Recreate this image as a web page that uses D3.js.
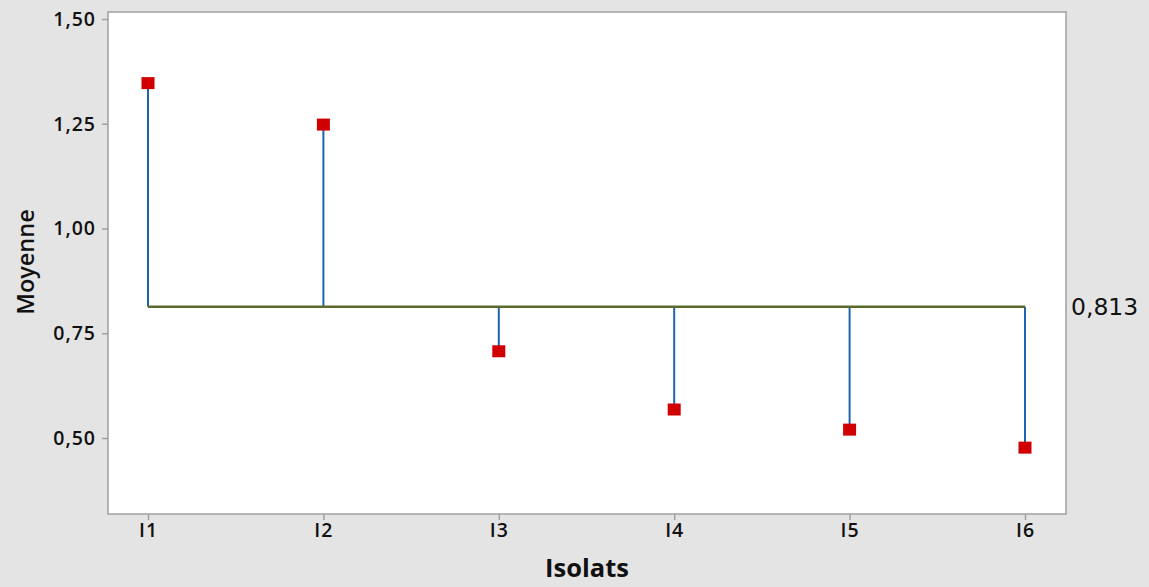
<!DOCTYPE html>
<html>
<head>
<meta charset="utf-8">
<script src="https://cdn.jsdelivr.net/npm/d3@7"></script>
<style>
  body { margin: 0; background: #e4e4e4; }
  #chart { width: 1149px; height: 587px; }
  text { font-family: "Open Sans", "Noto Sans", sans-serif; }
</style>
</head>
<body>
<div id="chart"></div>
<script>
// data
const isolats = ["I1", "I2", "I3", "I4", "I5", "I6"]
const moyennes = [1.347, 1.248, 0.707, 0.568, 0.520, 0.477]
const moyenneGlobale = 0.813
const yTicks = [0.50, 0.75, 1.00, 1.25, 1.50]

const W = 1149, H = 587
const frame = { left: 108, top: 12, right: 1066, bottom: 514 }

const svg = d3.select("#chart").append("svg")
  .attr("width", W)
  .attr("height", H)

svg.append("rect")
  .attr("width", W).attr("height", H)
  .attr("fill", "#e4e4e4")

// zone du graphe
svg.append("rect")
  .attr("x", frame.left).attr("y", frame.top)
  .attr("width", frame.right - frame.left)
  .attr("height", frame.bottom - frame.top)
  .attr("fill", "white")
  .attr("stroke", "#a0a0a0")
  .attr("stroke-width", 1.5)

const xScale = d3.scalePoint()
  .domain(isolats)
  .range([148, 1025])

const yScale = d3.scaleLinear()
  .domain([0.50, 1.50])
  .range([438, 19])

// axes
const xAxis = d3.axisBottom(xScale).tickSize(6).tickPadding(3)
const yAxis = d3.axisLeft(yScale).tickValues(yTicks).tickSize(6).tickPadding(6)
  .tickFormat(d => d3.format(".2f")(d).replace(".", ","))

const gx = svg.append("g")
  .attr("transform", `translate(0, ${frame.bottom})`)
  .call(xAxis)
gx.select(".domain").remove()

const gy = svg.append("g")
  .attr("transform", `translate(${frame.left}, 0)`)
  .call(yAxis)
gy.select(".domain").remove()

svg.selectAll(".tick line").attr("stroke", "#a0a0a0").attr("stroke-width", 1.5)
svg.selectAll(".tick text")
  .style("font-family", "'Open Sans', sans-serif")
  .style("font-size", "19.5px")
  .style("font-weight", "600")
  .style("letter-spacing", "1px")
  .attr("fill", "#111")

// titres des axes
svg.append("text")
  .attr("x", (frame.left + frame.right) / 2)
  .attr("y", 577)
  .attr("text-anchor", "middle")
  .style("font-size", "25.5px")
  .style("font-weight", "bold")
  .attr("fill", "#111")
  .text("Isolats")

svg.append("text")
  .attr("transform", "rotate(-90)")
  .attr("x", -262)
  .attr("y", 34)
  .attr("text-anchor", "middle")
  .style("font-size", "23.5px")
  .style("font-weight", "600")
  .attr("fill", "#111")
  .text("Moyenne")

// tiges
svg.selectAll(".stem")
  .data(isolats)
  .enter()
  .append("line")
  .attr("class", "stem")
  .attr("x1", d => xScale(d)).attr("x2", d => xScale(d))
  .attr("y1", yScale(moyenneGlobale))
  .attr("y2", (d, i) => yScale(moyennes[i]))
  .attr("stroke", "#1f64b0")
  .attr("stroke-width", 2)

// ligne de la moyenne
svg.append("line")
  .attr("x1", xScale("I1")).attr("x2", xScale("I6"))
  .attr("y1", yScale(moyenneGlobale)).attr("y2", yScale(moyenneGlobale))
  .attr("stroke", "#5a6a2a")
  .attr("stroke-width", 2.5)

svg.append("text")
  .attr("x", 1071)
  .attr("y", yScale(moyenneGlobale) + 8)
  .style("font-family", "'DejaVu Sans', sans-serif")
  .style("font-size", "23.5px")
  .attr("fill", "#111")
  .text(String(moyenneGlobale).replace(".", ","))

// points
svg.selectAll(".pt")
  .data(isolats)
  .enter()
  .append("rect")
  .attr("class", "pt")
  .attr("x", d => xScale(d) - 6.5)
  .attr("y", (d, i) => yScale(moyennes[i]) - 6)
  .attr("width", 13).attr("height", 12)
  .attr("fill", "#d00000")
</script>
</body>
</html>
